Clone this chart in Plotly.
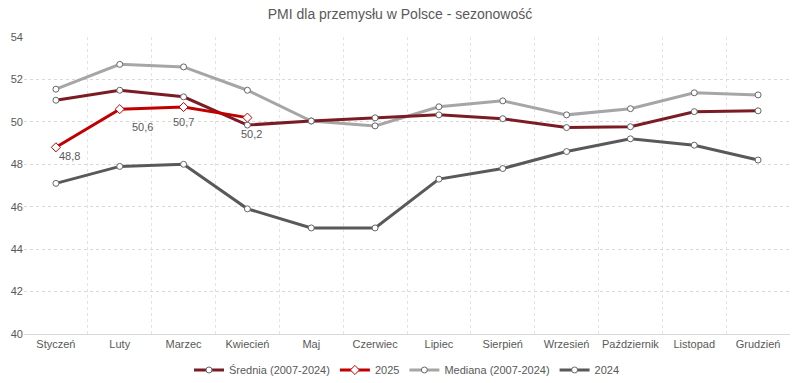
import plotly.graph_objects as go

months = ["Styczeń", "Luty", "Marzec", "Kwiecień", "Maj", "Czerwiec", "Lipiec",
          "Sierpień", "Wrzesień", "Październik", "Listopad", "Grudzień"]
srednia = [51.02, 51.49, 51.18, 49.85, 50.04, 50.19, 50.33, 50.15, 49.73, 49.77, 50.48, 50.52]
mediana = [51.54, 52.71, 52.59, 51.49, 50.04, 49.81, 50.71, 50.99, 50.33, 50.62, 51.37, 51.27]
y2024 = [47.1, 47.9, 48.0, 45.9, 45.0, 45.0, 47.3, 47.8, 48.6, 49.2, 48.9, 48.2]
y2025 = [48.8, 50.6, 50.7, 50.2]
labels2025 = ["48,8", "50,6", "50,7", "50,2"]
label_offsets = [(14, 9), (10, 18), (0, 15), (4, 16)]

FONT = "Liberation Sans, Arial, sans-serif"
TXT = "#595959"

fig = go.Figure()

def add(name, y, color, symbol, rank, xs=months):
    fig.add_trace(go.Scatter(
        x=xs[:len(y)], y=y, name=name, mode="lines+markers",
        line=dict(color=color, width=3),
        marker=dict(symbol=symbol, size=6 if symbol == "circle" else 7,
                    color="white", line=dict(color=color if symbol != "circle" else "#666666", width=1)),
        legendrank=rank,
    ))

add("2024", y2024, "#595959", "circle", 4)
add("Mediana (2007-2024)", mediana, "#A6A6A6", "circle", 3)
add("Średnia (2007-2024)", srednia, "#7B1C24", "circle", 1)
add("2025", y2025, "#C00000", "diamond", 2)

for i, (m, v, t) in enumerate(zip(months, y2025, labels2025)):
    dx, dy = label_offsets[i]
    if i == 1:
        fig.add_annotation(x=m, y=v, text=t, showarrow=True, arrowhead=0,
                           arrowwidth=1, arrowcolor="#8C8C8C", ax=dx, ay=dy,
                           xanchor="left", yanchor="middle", standoff=3,
                           font=dict(family=FONT, size=11, color=TXT))
    else:
        fig.add_annotation(x=m, y=v, text=t, showarrow=False, xshift=dx, yshift=-dy,
                           font=dict(family=FONT, size=11, color=TXT))

fig.update_layout(
    width=800, height=383,
    margin=dict(l=24, r=10, t=37, b=49),
    paper_bgcolor="white", plot_bgcolor="white",
    font=dict(family=FONT, size=11, color=TXT),
    title=dict(text="PMI dla przemysłu w Polsce - sezonowość", x=0.5, xanchor="center",
               y=0.963, yanchor="middle", font=dict(family=FONT, size=14, color=TXT)),
    legend=dict(orientation="h", x=0.5, xanchor="center", yref="container",
                y=0.034, yanchor="middle",
                font=dict(family=FONT, size=11, color=TXT), itemwidth=30,
                traceorder="normal"),
    showlegend=True,
)
fig.update_xaxes(type="category", categoryorder="array", categoryarray=months,
                 range=[-0.5, 11.5], tickson="boundaries", showgrid=True,
                 gridcolor="#E3E3E3", griddash="dot", gridwidth=1,
                 showline=True, linecolor="#D9D9D9", linewidth=1, tickangle=0,
                 automargin=False,
                 ticks="", tickfont=dict(family=FONT, size=11, color=TXT), zeroline=False)
fig.update_yaxes(range=[40, 54], dtick=2, showgrid=True, gridcolor="#D9D9D9",
                 griddash="dot", gridwidth=1, zeroline=False, showline=False,
                 automargin=False,
                 ticks="", tickfont=dict(family=FONT, size=11, color=TXT))

fig.write_html("out.html", config={"displayModeBar": False},
               post_script="document.body.style.margin='0';")
